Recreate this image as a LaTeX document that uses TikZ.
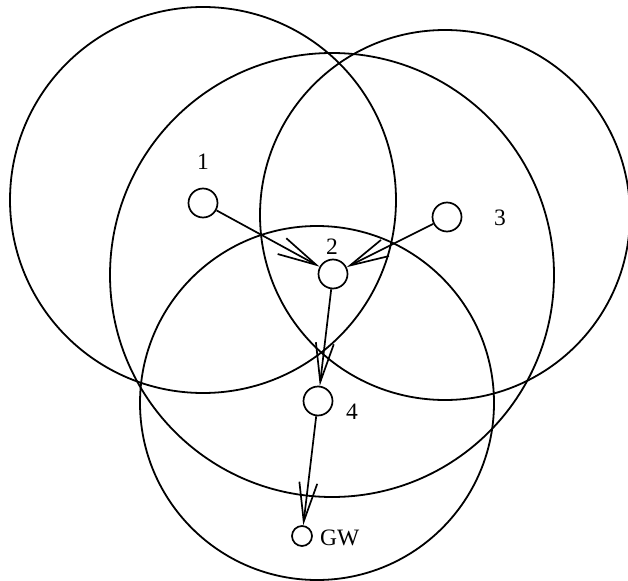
\documentclass[tikz,border=0pt]{standalone}
\usepackage{fontspec}
\setmainfont{Liberation Serif}
\usetikzlibrary{arrows.meta}
\begin{document}
\begin{tikzpicture}[x=1pt,y=-1pt,
  rangecircle/.style={line width=1.8pt},
  sensor/.style={circle,draw,line width=1.7pt,minimum size=29pt,inner sep=0pt},
  gwnode/.style={circle,draw,line width=1.7pt,minimum size=20pt,inner sep=0pt},
  lab/.style={font=\fontsize{23.5}{27}\selectfont,inner sep=0pt},
  hop/.style={line width=1.7pt,-{Straight Barb[length=39pt,width=18pt,line width=1.7pt]}}]
\useasboundingbox (0,0) rectangle (628,580);
% radio ranges
\draw[rangecircle] (203,200) circle (193);
\draw[rangecircle] (332,275) circle (222);
\draw[rangecircle] (445,215) circle (185);
\draw[rangecircle] (317,403) circle (177);
% nodes
\node[sensor] (n1) at (203,203) {};
\node[sensor] (n2) at (333,274) {};
\node[sensor] (n3) at (447,217) {};
\node[sensor] (n4) at (318,401) {};
\node[gwnode] (gw) at (302,536) {};
% labels
\node[lab] (l1) at (203,162) {1};
\node[lab] (l2) at (332,247) {2};
\node[lab] (l3) at (500,218) {3};
\node[lab] (l4) at (352,412) {4};
\node[lab,anchor=west] (lgw) at (320,538) {GW};
% routes
\draw[hop] (n1) -- (n2);
\draw[hop] (n3) -- (n2);
\draw[hop] (n2) -- (n4);
\draw[hop] (n4) -- (gw);
\end{tikzpicture}
\end{document}
